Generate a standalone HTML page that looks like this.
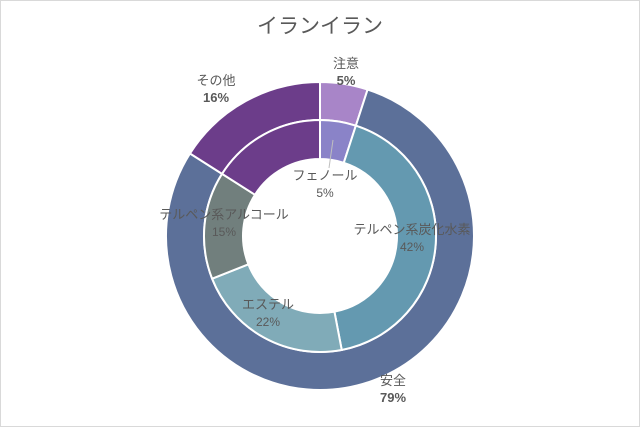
<!DOCTYPE html>
<html><head><meta charset="utf-8"><style>
body{margin:0;background:#fff}
svg{display:block;font-family:"Liberation Sans","Noto Sans CJK JP",sans-serif}
</style></head><body>
<svg width="640" height="427" viewBox="0 0 640 427">
<rect x="0.5" y="0.5" width="639" height="426" fill="#fff" stroke="#d9d9d9"/>
<text x="320" y="33" text-anchor="middle" font-size="21" fill="#595959">イランイラン</text>
<g id="rings"></g>
<g id="labels" font-size="13" fill="#595959"></g>
</svg>
<script>
const outerCats=["注意","安全","その他"];
const outerVals=[5,79,16];
const outerColors=["#a885c8","#5c7099","#6c3d8a"];
const innerCats=["フェノール","テルペン系炭化水素","エステル","テルペン系アルコール","その他"];
const innerVals=[5,42,22,15,16];
const innerColors=["#8a83c8","#6499b0","#80abb8","#717f7d","#6c3d8a"];
const outerLabelPos=[[346,68],[393,385],[216,85]];
const innerLabelPos=[[325,180],[412,234],[268,309],[224,219]];
const NS="http://www.w3.org/2000/svg";
const cx=320,cy=236;
function pt(r,a){return [cx+r*Math.sin(a),cy-r*Math.cos(a)];}
function ring(vals,cats,colors,r0,r1,prefix){
  const total=vals.reduce((a,b)=>a+b,0);let acc=0;
  const g=document.getElementById('rings');
  vals.forEach((v,i)=>{
    const a0=acc/total*2*Math.PI;acc+=v;const a1=acc/total*2*Math.PI;
    const lg=(a1-a0)>Math.PI?1:0;
    const p0=pt(r1,a0),p1=pt(r1,a1),p2=pt(r0,a1),p3=pt(r0,a0);
    const p=document.createElementNS(NS,'path');
    p.setAttribute('d',`M${p0}A${r1},${r1} 0 ${lg} 1 ${p1}L${p2}A${r0},${r0} 0 ${lg} 0 ${p3}Z`);
    p.setAttribute('fill',colors[i]);p.setAttribute('stroke','#fff');p.setAttribute('stroke-width','2');
    
    
    g.appendChild(p);
  });
}
ring(outerVals,outerCats,outerColors,116,154,'outer');
ring(innerVals,innerCats,innerColors,77,116,'inner');
const lg=document.getElementById('labels');
function label(x,y,name,val,bold){
  const t=document.createElementNS(NS,'text');
  t.setAttribute('x',x);t.setAttribute('y',y);t.setAttribute('text-anchor','middle');
  
  
  const s1=document.createElementNS(NS,'tspan');s1.textContent=name;t.appendChild(s1);
  const s2=document.createElementNS(NS,'tspan');s2.setAttribute('x',x);s2.setAttribute('dy','17');
  s2.textContent=val+'%';if(bold){s2.setAttribute('font-weight','bold');}else{s2.setAttribute('font-size','12');}
  t.appendChild(s2);lg.appendChild(t);
}
outerCats.forEach((c,i)=>label(outerLabelPos[i][0],outerLabelPos[i][1],c,outerVals[i],true));
innerCats.slice(0,4).forEach((c,i)=>label(innerLabelPos[i][0],innerLabelPos[i][1],c,innerVals[i],false));
const ln=document.createElementNS(NS,'line');
ln.setAttribute('x1',333);ln.setAttribute('y1',140);ln.setAttribute('x2',329);ln.setAttribute('y2',168);
ln.setAttribute('stroke','#bfbfbf');


lg.appendChild(ln);
</script>
</body></html>
